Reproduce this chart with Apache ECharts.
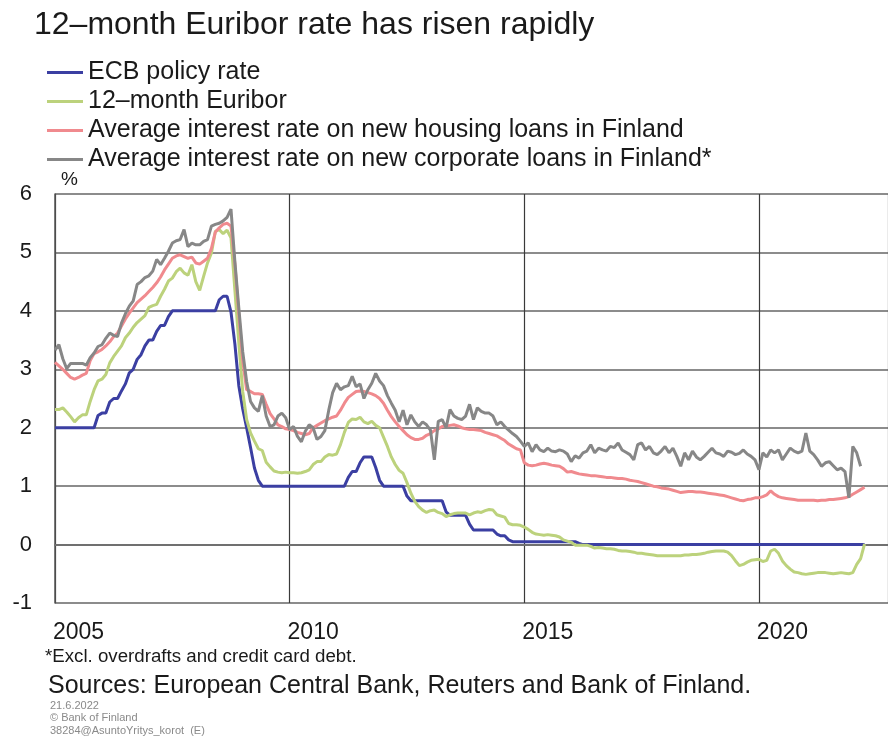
<!DOCTYPE html>
<html>
<head>
<meta charset="utf-8">
<script src="https://cdn.jsdelivr.net/npm/echarts@6/dist/echarts.min.js"></script>
<style>
html,body{margin:0;padding:0;background:#fff;}
#chart{width:888px;height:740px;}
</style>
</head>
<body>
<div id="chart"></div>
<script>
// Monthly data, January 2005 onwards
var startYear = 2005;
var seriesNames = [
  'ECB policy rate',
  '12\u2013month Euribor',
  'Average interest rate on new housing loans in Finland',
  'Average interest rate on new corporate loans in Finland*'
];
var yTicks = [-1, 0, 1, 2, 3, 4, 5, 6];
var xTickYears = [2005, 2010, 2015, 2020];

var ecbRate = [
  2,2,2,2,2,2,2,2,2,2,2,2.21,
  2.25,2.25,2.44,2.5,2.5,2.63,2.75,2.94,3,3.17,3.25,3.4,
  3.5,3.5,3.65,3.75,3.75,3.9,4,4,4,4,4,4,
  4,4,4,4,4,4,4.19,4.25,4.25,3.98,3.43,2.72,
  2.32,2,1.66,1.31,1.1,1,1,1,1,1,1,1,
  1,1,1,1,1,1,1,1,1,1,1,1,
  1,1,1,1.15,1.25,1.25,1.4,1.5,1.5,1.5,1.32,1.1,
  1,1,1,1,1,1,0.83,0.75,0.75,0.75,0.75,0.75,
  0.75,0.75,0.75,0.75,0.56,0.5,0.5,0.5,0.5,0.5,0.35,0.25,
  0.25,0.25,0.25,0.25,0.25,0.18,0.15,0.15,0.08,0.05,0.05,0.05,
  0.05,0.05,0.05,0.05,0.05,0.05,0.05,0.05,0.05,0.05,0.05,0.05,
  0.05,0.05,0.02,0,0,0,0,0,0,0,0,0,
  0,0,0,0,0,0,0,0,0,0,0,0,
  0,0,0,0,0,0,0,0,0,0,0,0,
  0,0,0,0,0,0,0,0,0,0,0,0,
  0,0,0,0,0,0,0,0,0,0,0,0,
  0,0,0,0,0,0,0,0,0,0,0,0,
  0,0,0,0
];
var euribor12m = [
  2.31,2.31,2.34,2.27,2.19,2.10,2.17,2.22,2.22,2.45,2.65,2.80,
  2.83,2.91,3.11,3.22,3.31,3.40,3.54,3.62,3.72,3.80,3.86,3.92,
  4.06,4.09,4.11,4.25,4.37,4.51,4.56,4.67,4.73,4.65,4.61,4.79,
  4.50,4.35,4.59,4.82,4.99,5.36,5.39,5.32,5.38,5.25,4.35,3.45,
  2.62,2.14,1.91,1.77,1.64,1.61,1.41,1.33,1.26,1.24,1.23,1.24,
  1.23,1.23,1.22,1.23,1.25,1.28,1.37,1.42,1.42,1.50,1.54,1.53,
  1.55,1.71,1.92,2.09,2.15,2.14,2.18,2.10,2.07,2.11,2.04,2.00,
  1.84,1.68,1.50,1.37,1.27,1.22,1.06,0.88,0.74,0.65,0.59,0.55,
  0.58,0.59,0.55,0.53,0.48,0.51,0.53,0.54,0.54,0.54,0.51,0.54,
  0.56,0.55,0.58,0.60,0.59,0.51,0.49,0.47,0.36,0.34,0.34,0.33,
  0.30,0.26,0.21,0.18,0.17,0.16,0.17,0.16,0.15,0.13,0.08,0.06,
  0.04,-0.01,-0.01,-0.01,-0.01,-0.03,-0.06,-0.05,-0.06,-0.07,-0.07,-0.08,
  -0.10,-0.11,-0.11,-0.12,-0.13,-0.15,-0.15,-0.16,-0.17,-0.18,-0.19,-0.19,
  -0.19,-0.19,-0.19,-0.19,-0.19,-0.18,-0.18,-0.17,-0.17,-0.16,-0.15,-0.13,
  -0.12,-0.11,-0.11,-0.11,-0.13,-0.19,-0.28,-0.36,-0.34,-0.30,-0.27,-0.26,
  -0.25,-0.29,-0.27,-0.11,-0.08,-0.15,-0.28,-0.36,-0.42,-0.47,-0.48,-0.50,
  -0.51,-0.50,-0.49,-0.48,-0.48,-0.48,-0.49,-0.50,-0.49,-0.48,-0.49,-0.50,
  -0.48,-0.34,-0.24,0.01
];
var housingLoans = [
  3.12,3.06,3.00,2.93,2.86,2.83,2.86,2.90,2.93,3.15,3.27,3.30,
  3.34,3.40,3.47,3.56,3.62,3.74,3.86,3.96,4.05,4.14,4.20,4.26,
  4.33,4.40,4.48,4.58,4.70,4.80,4.90,4.94,4.96,4.93,4.90,4.92,
  4.82,4.80,4.85,4.90,5.07,5.35,5.42,5.48,5.50,5.45,4.80,3.95,
  3.15,2.65,2.62,2.58,2.58,2.57,2.40,2.24,2.15,2.05,2.02,1.98,
  1.97,1.95,1.92,1.90,1.88,1.90,2.00,2.04,2.08,2.12,2.15,2.18,
  2.20,2.30,2.42,2.52,2.57,2.62,2.63,2.62,2.60,2.58,2.55,2.50,
  2.42,2.30,2.19,2.10,2.02,1.95,1.88,1.83,1.80,1.80,1.82,1.87,
  1.90,1.95,1.98,2.02,2.03,2.04,2.05,2.03,2.00,1.98,1.97,1.97,
  1.96,1.95,1.92,1.90,1.88,1.86,1.82,1.78,1.72,1.68,1.64,1.62,
  1.40,1.36,1.35,1.36,1.38,1.39,1.38,1.36,1.35,1.34,1.30,1.24,
  1.25,1.23,1.21,1.20,1.19,1.18,1.18,1.17,1.16,1.15,1.15,1.14,
  1.13,1.13,1.12,1.10,1.09,1.08,1.06,1.04,1.02,1.00,0.99,0.97,
  0.96,0.95,0.93,0.91,0.89,0.90,0.91,0.91,0.90,0.90,0.89,0.88,
  0.87,0.86,0.85,0.84,0.82,0.80,0.78,0.76,0.75,0.77,0.78,0.80,
  0.80,0.82,0.85,0.92,0.86,0.82,0.80,0.79,0.78,0.77,0.76,0.76,
  0.76,0.76,0.76,0.75,0.76,0.76,0.77,0.77,0.78,0.79,0.80,0.82,
  0.86,0.90,0.94,0.98
];
var corporateLoans = [
  3.33,3.42,3.18,3.01,3.10,3.10,3.10,3.10,3.07,3.20,3.28,3.39,
  3.42,3.53,3.62,3.58,3.56,3.79,3.95,4.08,4.17,4.45,4.50,4.57,
  4.60,4.68,4.88,4.79,4.90,5.02,5.16,5.20,5.22,5.39,5.10,5.16,
  5.13,5.13,5.19,5.22,5.45,5.48,5.50,5.54,5.60,5.74,4.84,4.05,
  3.30,2.79,2.45,2.34,2.28,2.55,2.20,2.02,2.05,2.20,2.25,2.17,
  1.97,2.02,1.85,1.76,1.94,2.05,2.00,1.80,1.85,1.95,2.30,2.60,
  2.76,2.65,2.70,2.72,2.88,2.70,2.75,2.50,2.65,2.76,2.93,2.80,
  2.72,2.55,2.42,2.30,2.10,2.30,2.05,2.22,2.10,2.02,2.10,2.05,
  1.96,1.45,2.11,2.14,2.00,2.31,2.20,2.16,2.14,2.20,2.40,2.14,
  2.34,2.28,2.25,2.25,2.20,2.05,2.10,2.02,1.96,1.90,1.85,1.77,
  1.68,1.74,1.59,1.71,1.62,1.59,1.65,1.60,1.59,1.62,1.60,1.55,
  1.42,1.52,1.48,1.57,1.60,1.71,1.57,1.65,1.62,1.60,1.68,1.66,
  1.74,1.62,1.58,1.54,1.45,1.71,1.74,1.62,1.68,1.57,1.54,1.60,
  1.68,1.57,1.65,1.51,1.34,1.57,1.45,1.60,1.50,1.45,1.51,1.58,
  1.65,1.57,1.55,1.51,1.60,1.58,1.54,1.56,1.62,1.55,1.51,1.45,
  1.28,1.57,1.50,1.62,1.57,1.62,1.45,1.55,1.65,1.60,1.57,1.60,
  1.91,1.60,1.54,1.45,1.34,1.40,1.42,1.35,1.28,1.31,1.25,0.80,
  1.68,1.57,1.34
];

var colors = ['#3b3fa2', '#bcd27c', '#f08a8e', '#878787'];
var FONT = '"Liberation Sans", Arial, sans-serif';

function toPairs(arr) {
  return arr.map(function (v, i) { return [startYear + i / 12, v]; });
}
var allSeries = [ecbRate, euribor12m, housingLoans, corporateLoans];

var chart = echarts.init(document.getElementById('chart'), null, {renderer: 'canvas'});
var option = {
  animation: false,
  backgroundColor: '#ffffff',
  title: {
    text: '12\u2013month Euribor rate has risen rapidly',
    left: 29, top: 4,
    textStyle: {fontFamily: FONT, fontSize: 32, fontWeight: 'normal', color: '#1a1a1a'}
  },
  legend: {
    orient: 'vertical',
    left: 42, top: 55,
    itemWidth: 36, itemHeight: 3, itemGap: 4,
    icon: 'rect',
    textStyle: {fontFamily: FONT, fontSize: 25, color: '#1a1a1a', lineHeight: 24, padding: [0,0,0,0]},
    data: seriesNames
  },
  grid: {left: 55, top: 194, width: 836, height: 409, containLabel: false},
  xAxis: {
    type: 'value', min: 2005, max: 2022.75, interval: 5,
    axisLine: {show: true, lineStyle: {color: '#707070', width: 2}},
    axisTick: {show: false},
    splitLine: {show: true, lineStyle: {color: '#3a3a3a', width: 1.2}},
    axisLabel: {
      showMaxLabel: false,
      fontFamily: FONT, fontSize: 23, color: '#1a1a1a',
      margin: 18, align: 'center', padding: [0, 0, 0, 47],
      formatter: function (v) { return xTickYears.indexOf(v) >= 0 ? String(v) : ''; }
    }
  },
  yAxis: {
    type: 'value', min: yTicks[0], max: yTicks[yTicks.length - 1], interval: 1,
    axisLine: {show: true, lineStyle: {color: '#555', width: 1.5}},
    axisTick: {show: false},
    splitLine: {show: true, lineStyle: {color: '#666', width: 1.5}},
    axisLabel: {fontFamily: FONT, fontSize: 22, color: '#1a1a1a', margin: 23}
  },
  graphic: [
    {type: 'text', left: 61, top: 170, style: {text: '%', font: '19px ' + FONT, fill: '#1a1a1a'}},
    {type: 'text', left: 45, top: 647, style: {text: '*Excl. overdrafts and credit card debt.', font: '18.7px ' + FONT, fill: '#1a1a1a'}},
    {type: 'text', left: 48, top: 674, style: {text: 'Sources: European Central Bank, Reuters and Bank of Finland.', font: '25px ' + FONT, fill: '#1a1a1a'}},
    {type: 'text', left: 50, top: 700, style: {text: '21.6.2022', font: '11px ' + FONT, fill: '#8a8a8a'}},
    {type: 'text', left: 50, top: 712.5, style: {text: '\u00a9 Bank of Finland', font: '11px ' + FONT, fill: '#8a8a8a'}},
    {type: 'text', left: 50, top: 725, style: {text: '38284@AsuntoYritys_korot  (E)', font: '11px ' + FONT, fill: '#8a8a8a'}}
  ],
  series: allSeries.map(function (arr, k) {
    return {
      name: seriesNames[k],
      type: 'line',
      data: toPairs(arr),
      showSymbol: false,
      symbol: 'none',
      lineStyle: {color: colors[k], width: 3},
      itemStyle: {color: colors[k]},
      z: 2 + k
    };
  })
};
chart.setOption(option);
</script>
</body>
</html>
